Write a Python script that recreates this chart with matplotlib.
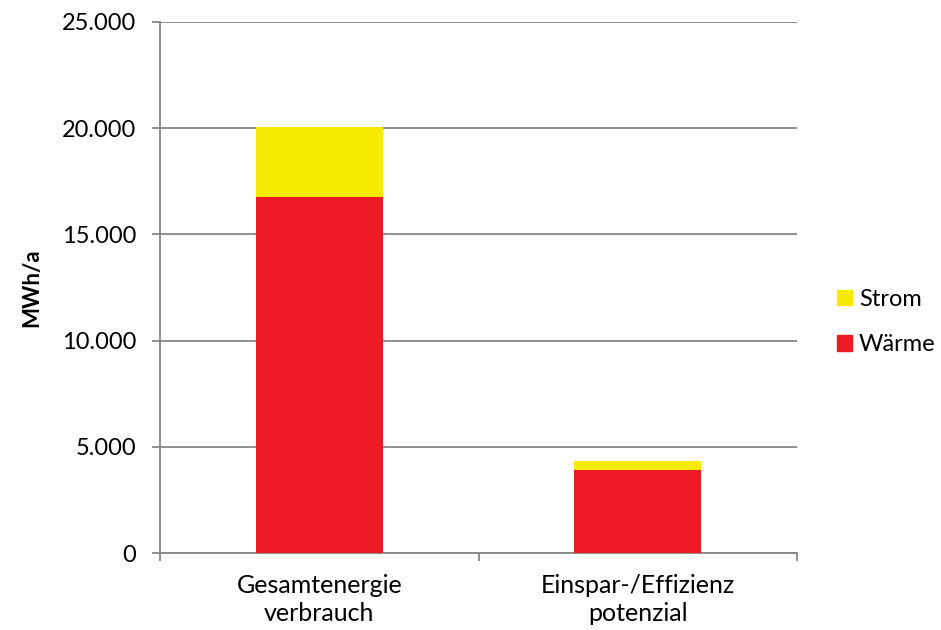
import matplotlib
matplotlib.use("Agg")
import matplotlib.pyplot as plt
from matplotlib.ticker import FuncFormatter
from matplotlib.patches import Patch

categories = ["Gesamtenergie\nverbrauch", "Einspar-/Effizienz\npotenzial"]
waerme = [16750, 3920]
strom = [3300, 420]
yticks = [0, 5000, 10000, 15000, 20000, 25000]

plt.rcParams['font.family'] = ['Lato', 'DejaVu Sans']

fig = plt.figure(figsize=(9.41, 6.30), dpi=100)
ax = fig.add_axes([160/941, 77/630, 637/941, 531/630])

red = '#ED1C24'
yellow = '#F5EA00'
x = [0, 1]
ax.bar(x, waerme, width=0.4, color=red, zorder=3)
ax.bar(x, strom, bottom=waerme, width=0.4, color=yellow, zorder=3)

ax.set_xlim(-0.5, 1.5)
ax.set_ylim(0, 25000)
ax.set_yticks(yticks)
ax.yaxis.set_major_formatter(FuncFormatter(lambda v, p: f"{int(v):,}".replace(",", ".")))
ax.yaxis.grid(True, color='#868686', linewidth=1.3, zorder=0)
ax.set_xticks(x)
ax.set_xticklabels(categories, linespacing=1.25)
ax.set_xticks([-0.5, 0.5, 1.5], minor=True)
ax.tick_params(axis='x', which='major', length=0, pad=15, labelsize=18)
ax.tick_params(axis='x', which='minor', length=6, color='#868686', width=1.3)
ax.tick_params(axis='y', length=6, color='#868686', width=1.3, labelsize=17, pad=11)

for s in ['top', 'right']:
    ax.spines[s].set_visible(False)
for s in ['left', 'bottom']:
    ax.spines[s].set_color('#868686')
    ax.spines[s].set_linewidth(1.3)

ax.set_ylabel("MWh/a", fontsize=16, fontweight='bold', labelpad=14)

handles = [Patch(color=yellow, label='Strom'), Patch(color=red, label='Wärme')]
leg = fig.legend(handles=handles, loc='center left', bbox_to_anchor=(837/941, 1-322/630),
                 frameon=False, fontsize=17, handlelength=0.62, handleheight=0.62,
                 handletextpad=0.3, labelspacing=1.05, borderpad=0, borderaxespad=0)

fig.savefig("out.png", dpi=100)
